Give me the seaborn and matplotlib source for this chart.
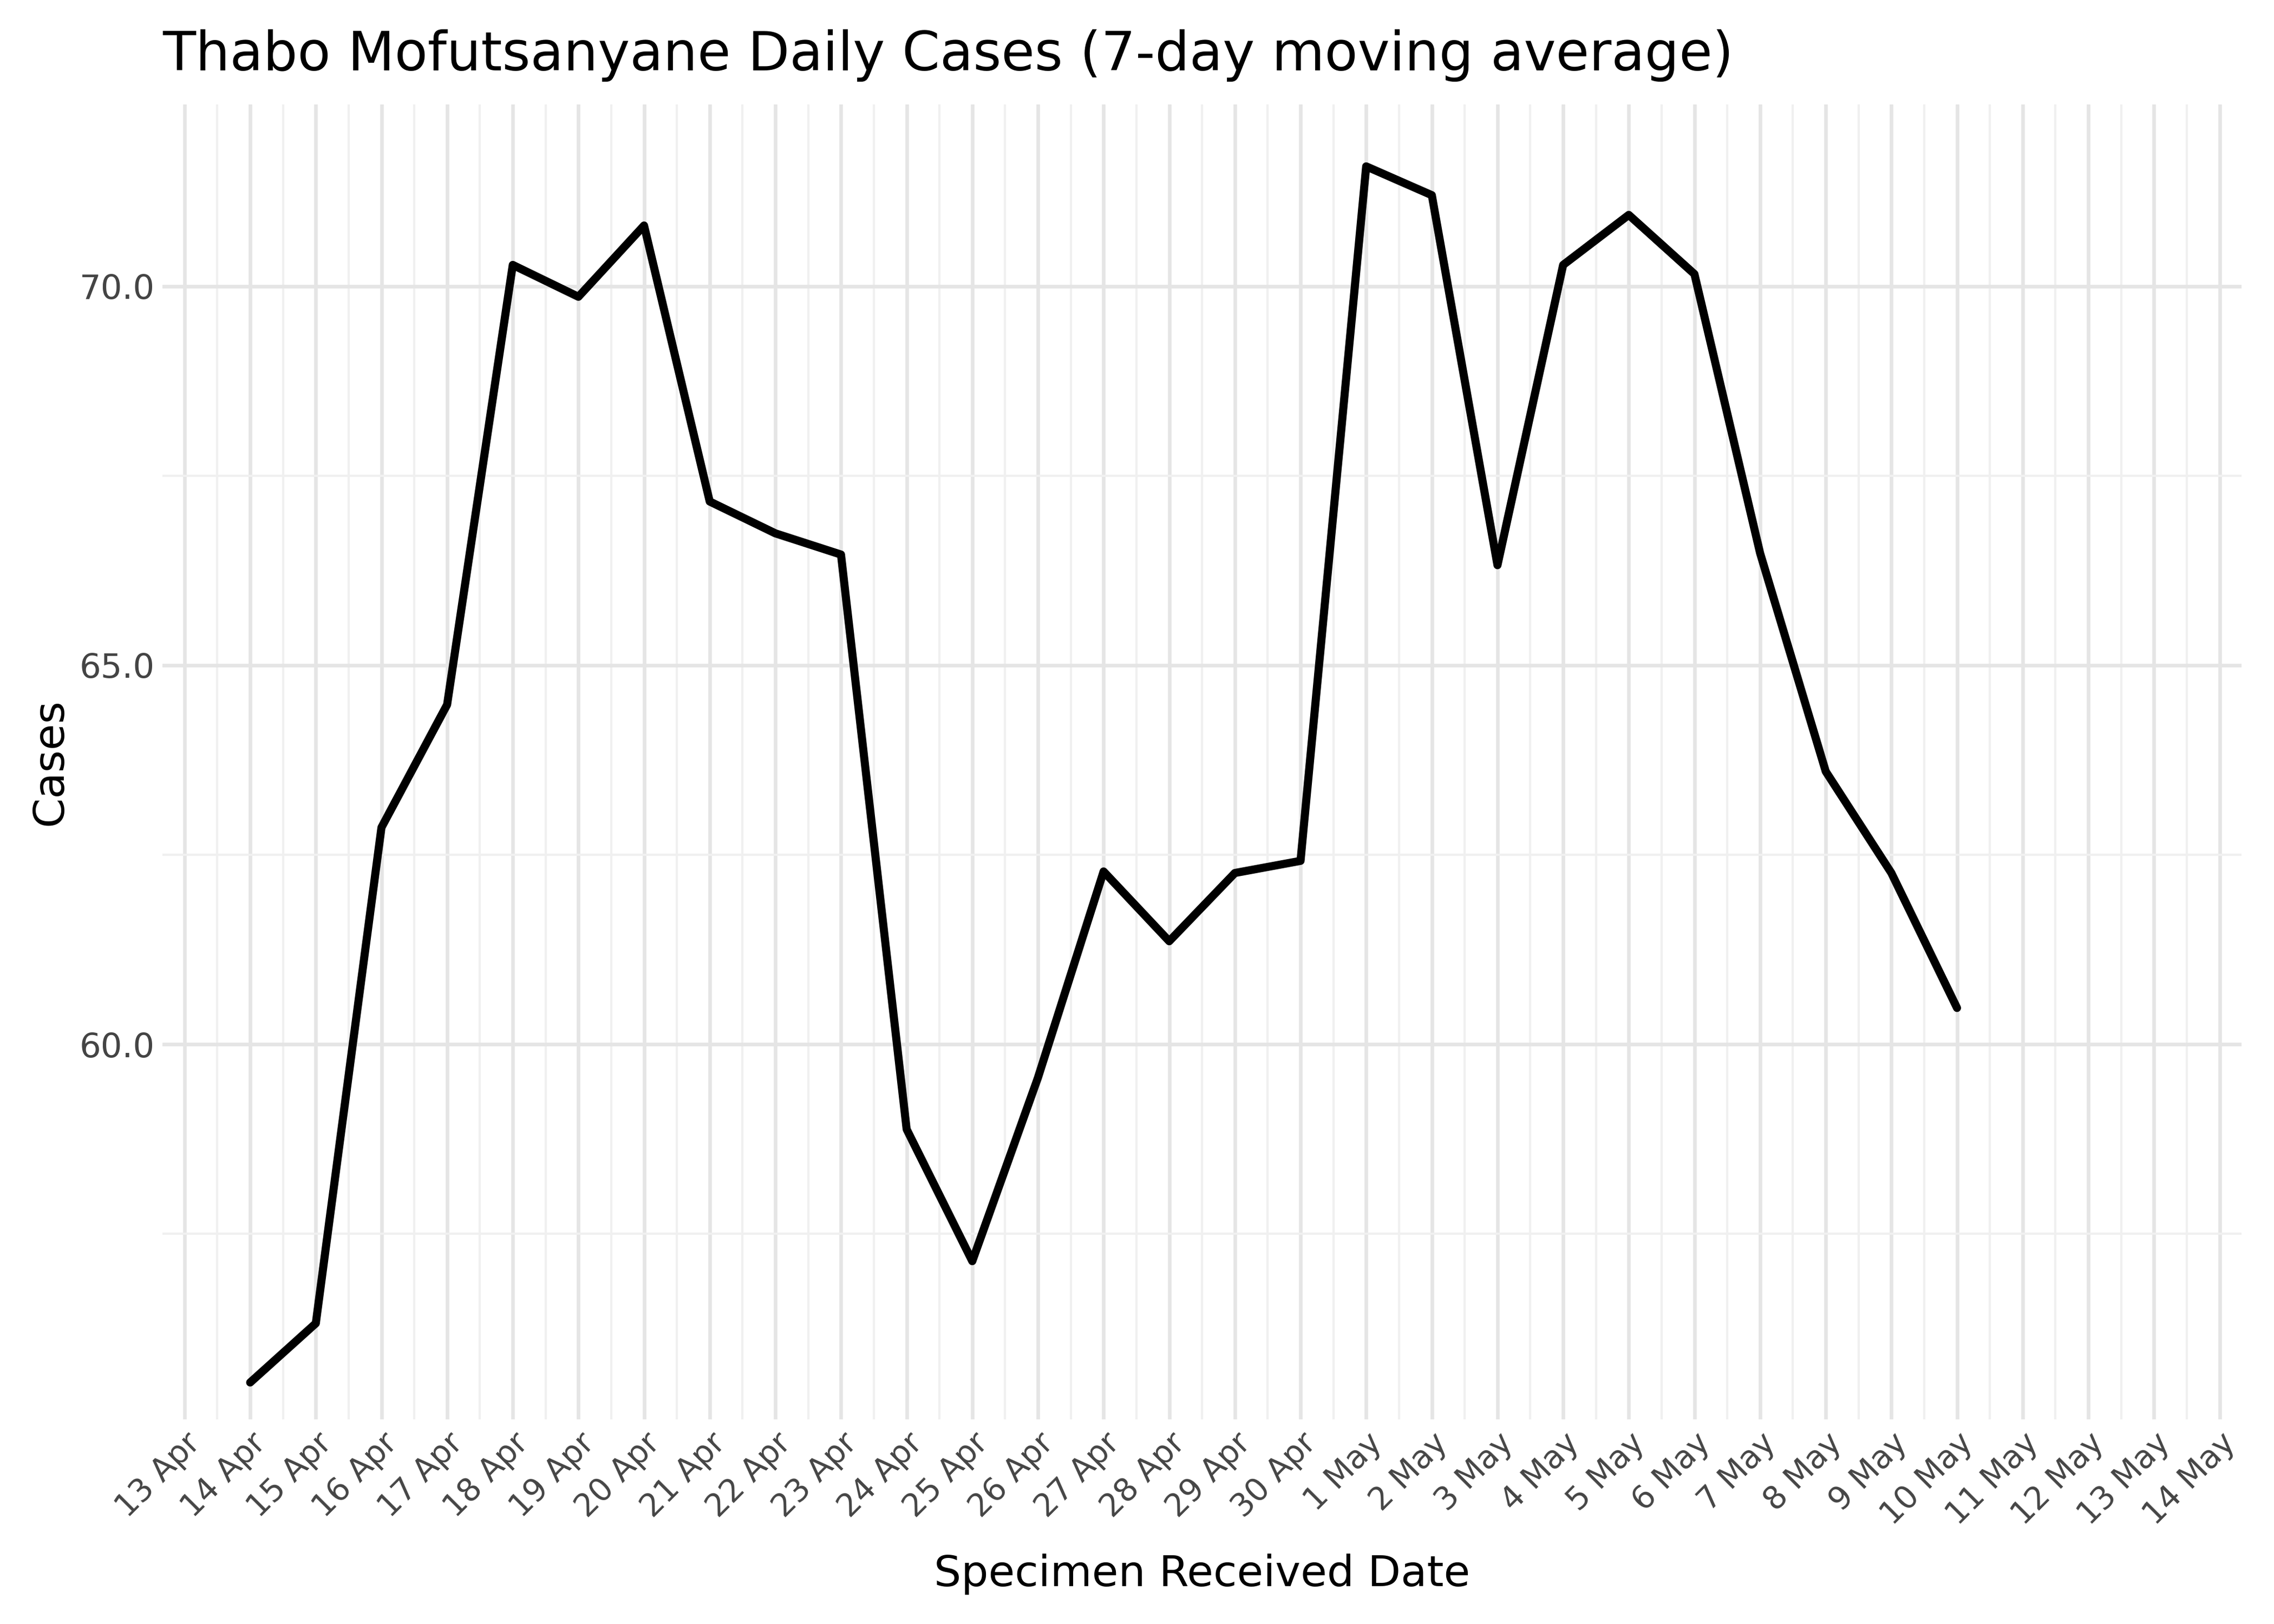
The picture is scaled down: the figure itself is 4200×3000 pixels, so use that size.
import pandas as pd
import numpy as np
import matplotlib
matplotlib.use("Agg")
import matplotlib.pyplot as plt
import matplotlib.dates as mdates
from matplotlib.ticker import MultipleLocator
import seaborn as sns

# 7-day moving average
dates = pd.date_range("2020-04-14", "2020-05-10", freq="D")
cases = [55.54, 56.32, 62.86, 64.48, 70.28, 69.86, 70.80, 67.16, 66.74, 66.46,
         58.88, 57.14, 59.56, 62.28, 61.36, 62.26, 62.42, 71.58, 71.20, 66.32,
         70.28, 70.94, 70.16, 66.48, 63.60, 62.26, 60.48]
tick_dates = pd.date_range("2020-04-13", "2020-05-14", freq="D")

df = pd.DataFrame({"date": dates, "cases": cases})

sns.set_theme(style="whitegrid")
plt.rcParams['font.family'] = ['DejaVu Sans']

fig, ax = plt.subplots(figsize=(14, 10), dpi=300)
sns.lineplot(data=df, x="date", y="cases", color="black", linewidth=3.6, ax=ax)

ax.set_xlim(tick_dates[0] - pd.Timedelta(hours=8), tick_dates[-1] + pd.Timedelta(hours=8))
ax.set_xticks(tick_dates)
ax.set_xticklabels([f"{d.day} {d.strftime('%b')}" for d in tick_dates],
                   rotation=45, ha="right", rotation_mode="anchor", fontsize=14, color="#444444")
ax.xaxis.set_minor_locator(mdates.HourLocator(byhour=12))
ax.set_ylim(55.05, 72.4)
ax.yaxis.set_major_locator(MultipleLocator(5))
ax.yaxis.set_minor_locator(MultipleLocator(2.5))
ax.yaxis.set_major_formatter(matplotlib.ticker.FormatStrFormatter("%.1f"))
ax.tick_params(axis="y", labelsize=15, labelcolor="#444444")
ax.tick_params(length=0)

ax.grid(which="major", color="#e5e5e5", linewidth=1.6)
ax.grid(which="minor", color="#f0f0f0", linewidth=1.0)
for s in ax.spines.values():
    s.set_visible(False)

ax.set_xlabel("Specimen Received Date", fontsize=19, labelpad=10, color="black")
ax.set_ylabel("Cases", fontsize=19, color="black")
ax.set_title("Thabo Mofutsanyane Daily Cases (7-day moving average)", fontsize=24,
             loc="left", pad=15, color="black")

plt.tight_layout()
plt.savefig("out.png", dpi=300)
